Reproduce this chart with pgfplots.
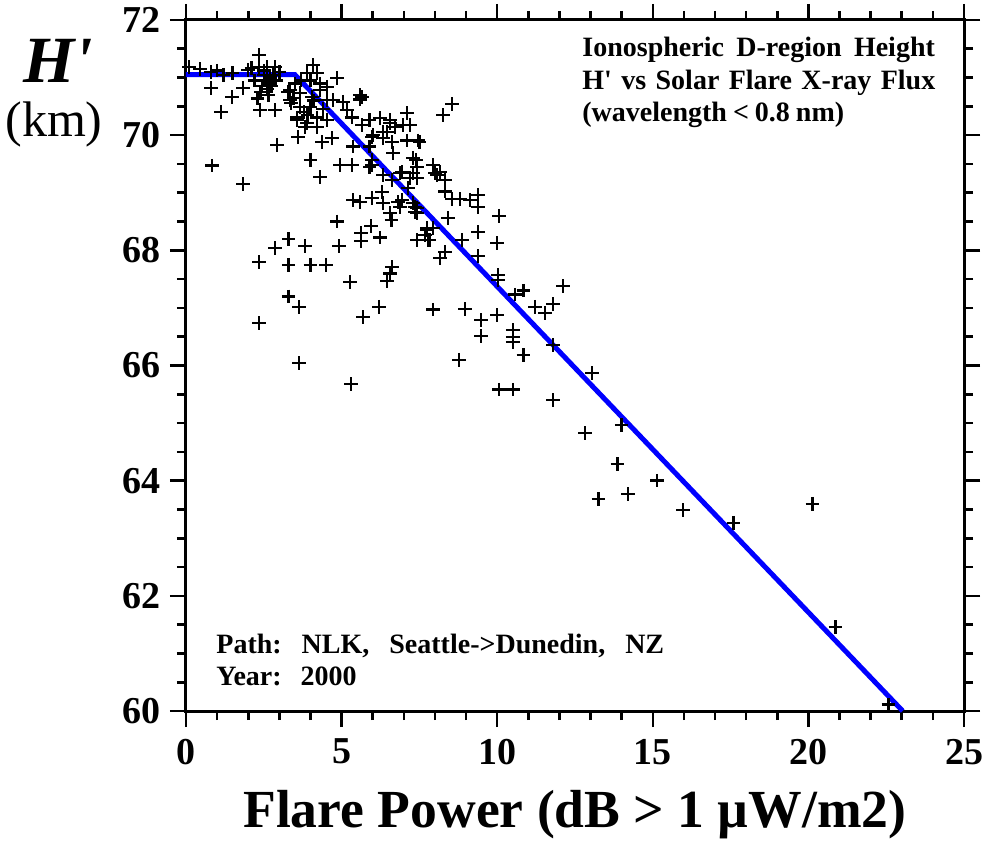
\documentclass[border=0pt]{standalone}
\usepackage{pgfplots}
\pgfplotsset{compat=1.18}
\usepackage{fontspec}
\setmainfont{Liberation Serif}
\tikzset{txt/.style={anchor=base west, inner sep=0pt, font=\fontsize{14}{14}\selectfont\bfseries}}
\pgfplotstableread{
x y
0.1 71.18
0.45 71.15
0.8 71.1
0.8 70.82
1.13 70.4
1.48 70.66
1.5 71.08
1.83 70.82
2.0 71.13
2.1 71.17
2.35 71.39
2.35 71.18
2.3 70.64
2.38 70.44
2.86 70.44
2.86 71.18
2.6 71.18
2.5 71.05
2.55 70.95
2.65 70.9
2.7 71.0
2.45 70.85
2.6 70.8
2.75 70.85
2.8 71.05
2.5 71.12
2.9 70.95
3.0 71.1
2.2 70.95
2.4 70.75
2.65 70.7
1.2 71.05
1.0 71.12
2.92 69.83
0.84 69.47
1.83 69.15
4.08 71.22
3.89 71.08
4.2 71.08
4.0 70.95
3.7 70.95
4.3 70.9
4.85 70.99
4.53 70.84
4.3 70.78
4.05 70.66
3.67 70.73
3.34 70.78
3.34 70.61
3.67 70.49
4.0 70.49
4.53 70.61
4.73 70.61
5.05 70.58
5.6 70.7
5.6 70.62
5.65 70.66
5.34 70.31
5.66 70.18
3.57 70.31
3.57 70.26
3.89 70.21
3.83 70.14
4.2 70.31
4.53 70.26
4.2 70.14
3.6 69.97
4.37 69.88
4.69 69.95
4.0 69.57
4.3 69.27
4.95 69.48
5.34 69.48
5.37 69.8
5.9 69.8
3.28 70.75
3.38 70.56
3.8 70.4
4.1 70.6
3.9 70.35
4.4 70.45
5.17 70.44
3.5 70.9
3.45 70.65
6.24 70.3
6.56 70.21
6.33 70.06
6.72 70.14
7.1 70.38
6.98 70.18
7.2 70.18
5.98 69.97
6.33 69.95
6.62 69.88
7.1 69.91
7.46 69.91
6.66 69.69
7.3 69.6
7.42 69.45
7.94 69.48
8.0 69.34
5.98 69.48
6.33 69.31
6.88 69.34
7.3 69.34
7.42 69.26
5.37 68.87
5.6 68.84
5.98 68.91
6.3 69.01
6.33 68.82
6.82 68.84
7.3 68.82
5.9 70.26
6.56 70.26
6.46 70.06
6.0 70.0
5.9 69.45
5.98 69.57
6.94 69.36
7.2 69.26
7.14 69.08
6.62 69.22
6.56 68.65
6.6 68.53
7.36 68.67
7.36 68.75
6.94 68.87
6.88 68.75
7.5 69.88
7.4 69.57
8.17 69.36
8.07 69.31
8.26 70.35
8.55 70.54
8.33 69.22
8.33 69.02
8.55 68.89
8.8 68.89
9.13 68.87
9.39 68.96
9.39 68.75
8.42 68.56
7.42 68.74
7.42 68.65
7.94 68.39
7.75 68.39
7.68 68.27
7.42 68.18
7.78 68.18
8.33 67.97
8.17 67.87
8.87 68.18
9.39 68.32
10.0 68.13
9.39 67.9
10.06 68.6
10.03 67.57
10.03 67.49
2.35 67.8
2.35 66.74
2.86 68.04
3.3 68.2
3.3 67.75
3.3 67.2
3.63 67.02
3.63 66.04
3.83 68.08
4.0 67.75
4.5 67.75
5.3 65.68
5.27 67.45
5.69 66.84
6.2 67.02
6.46 67.47
6.55 67.6
6.62 67.71
4.86 68.5
4.92 68.08
5.63 68.3
5.63 68.16
6.24 68.22
5.95 68.42
7.83 68.18
7.75 68.35
7.94 66.97
8.97 66.98
9.48 66.79
10.0 66.88
9.48 66.51
10.5 66.62
10.5 66.5
10.5 66.41
10.84 66.18
11.8 66.36
8.78 66.1
10.06 65.58
10.5 65.58
11.8 65.4
10.58 67.23
10.84 67.3
12.12 67.38
11.22 67.02
11.54 66.91
11.8 67.07
13.05 65.87
14.0 64.97
12.83 64.83
13.86 64.29
15.14 64.0
13.25 63.68
14.2 63.77
15.98 63.49
17.59 63.27
20.13 63.6
20.87 61.46
22.57 60.11
}\flaredata
\begin{document}
\begin{tikzpicture}
\path[use as bounding box] (-93pt,-65.5pt) rectangle (400pt,355.5pt);
\begin{axis}[
  scale only axis,
  width=389pt, height=345.5pt,
  xmin=0, xmax=25, ymin=60, ymax=72,
  xtick={0,5,...,25}, ytick={60,62,...,72},
  minor x tick num=4, minor y tick num=3,
  tick align=outside,
  major tick length=8pt, minor tick length=4.5pt,
  every tick/.style={black, line width=1.3pt},
  axis line style={line width=1.5pt},
  clip=false,
  ticklabel style={font=\fontsize{19}{19}\selectfont\bfseries},
  /pgf/number format/assume math mode=true,
  xticklabel style={yshift=-2.5pt},
  yticklabel style={xshift=-1pt},
]
\addplot[only marks, mark=+, mark size=3.4pt, mark options={line width=1.2pt, black}] table {\flaredata};
\addplot[blue, line width=2.5pt] coordinates {(0,71.05) (3.5,71.05) (23.03,60)};
\node[txt] at (rel axis cs:0.509,0.9465) {Ionospheric\hspace{6.2pt}D-region\hspace{6.2pt}Height};
\node[txt] at (rel axis cs:0.509,0.900) {H\textquotesingle\hspace{4.7pt}vs\hspace{4.7pt}Solar\hspace{4.7pt}Flare\hspace{4.7pt}X-ray\hspace{4.7pt}Flux};
\node[txt] at (rel axis cs:0.509,0.8538) {(wavelength\hspace{3pt}<\hspace{3pt}0.8\hspace{3pt}nm)};
\node[txt] at (rel axis cs:0.0386,0.0839) {Path:\hspace{10pt}NLK,\hspace{10pt}Seattle->Dunedin,\hspace{10pt}NZ};
\node[txt] at (rel axis cs:0.0386,0.0376) {Year:\hspace{9.5pt}2000};
\node[anchor=base, font=\fontsize{33}{33}\selectfont\bfseries\itshape] at (rel axis cs:-0.1645,0.909) {H\textquotesingle};
\node[anchor=base, font=\fontsize{25}{25}\selectfont] at (rel axis cs:-0.1697,0.8307) {(km)};
\node[anchor=base, font=\fontsize{26.8}{26.8}\selectfont\bfseries] at (rel axis cs:0.5,-0.169) {Flare Power (dB > 1 µW/m2)};
\end{axis}
\end{tikzpicture}
\end{document}
